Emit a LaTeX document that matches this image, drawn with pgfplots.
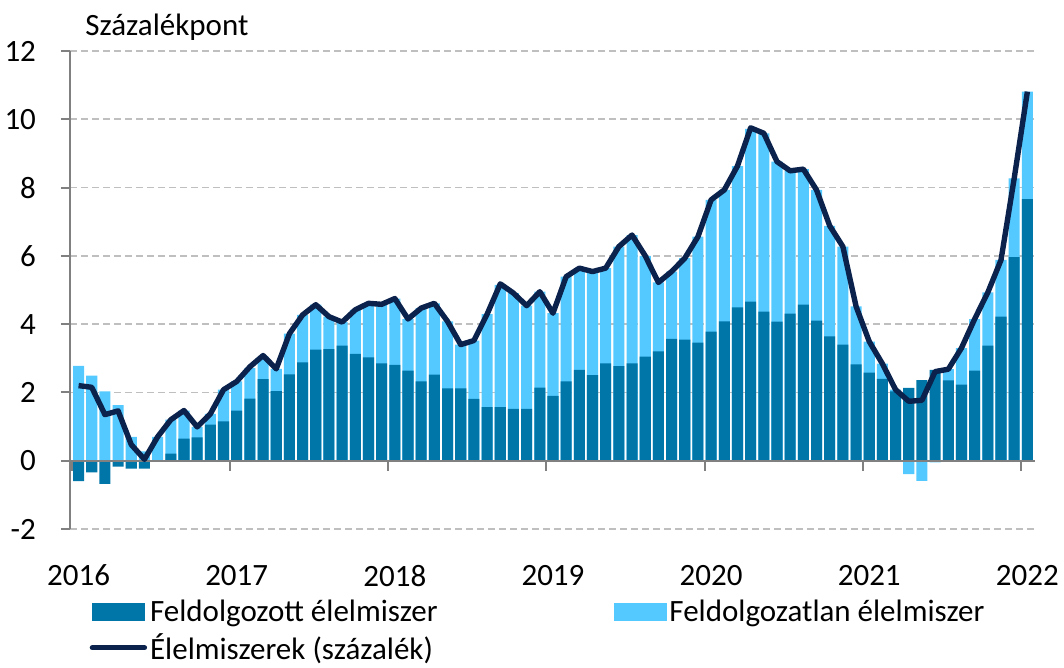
\documentclass[border=0pt]{standalone}
\usepackage{fontspec}
\setmainfont{Carlito}
\usepackage{pgfplots}
\pgfplotsset{compat=1.18}
\usepackage{pgfplotstable}

\definecolor{feldolg}{RGB}{0,118,168}
\definecolor{feldatl}{RGB}{84,201,255}
\definecolor{osszes}{RGB}{11,34,77}
\definecolor{tengely}{RGB}{128,128,128}
\definecolor{racs}{RGB}{191,191,191}

% x: month index + 0.5 (Jan 2016 = 0.5)
% d: processed food, l: unprocessed (bar top, or bottom if negative), t: total
\pgfplotstableread{
x d l t
0.5 -0.60 2.78 2.20
1.5 -0.34 2.49 2.15
2.5 -0.68 2.03 1.35
3.5 -0.17 1.63 1.46
4.5 -0.23 0.70 0.47
5.5 -0.23 0.27 0.04
6.5 0.00 0.70 0.70
7.5 0.21 1.20 1.20
8.5 0.65 1.47 1.47
9.5 0.68 0.99 0.99
10.5 1.06 1.37 1.37
11.5 1.15 2.08 2.08
12.5 1.47 2.32 2.32
13.5 1.82 2.71 2.75
14.5 2.39 3.05 3.08
15.5 2.04 2.69 2.69
16.5 2.53 3.72 3.72
17.5 2.88 4.27 4.27
18.5 3.25 4.57 4.57
19.5 3.27 4.22 4.22
20.5 3.37 4.06 4.06
21.5 3.13 4.42 4.42
22.5 3.03 4.61 4.61
23.5 2.85 4.58 4.58
24.5 2.81 4.75 4.75
25.5 2.64 4.15 4.15
26.5 2.32 4.47 4.47
27.5 2.52 4.61 4.61
28.5 2.12 4.08 4.08
29.5 2.12 3.40 3.40
30.5 1.81 3.52 3.52
31.5 1.57 4.29 4.29
32.5 1.57 5.15 5.18
33.5 1.52 4.91 4.91
34.5 1.52 4.54 4.54
35.5 2.14 4.95 4.95
36.5 1.90 4.32 4.32
37.5 2.32 5.39 5.39
38.5 2.66 5.64 5.64
39.5 2.51 5.54 5.54
40.5 2.85 5.64 5.64
41.5 2.77 6.27 6.27
42.5 2.85 6.61 6.61
43.5 3.05 6.00 6.00
44.5 3.20 5.22 5.22
45.5 3.57 5.54 5.54
46.5 3.55 5.93 5.93
47.5 3.46 6.56 6.56
48.5 3.78 7.64 7.64
49.5 4.08 7.93 7.93
50.5 4.49 8.63 8.63
51.5 4.66 9.72 9.75
52.5 4.37 9.59 9.59
53.5 4.07 8.76 8.76
54.5 4.31 8.49 8.49
55.5 4.57 8.54 8.54
56.5 4.10 7.93 7.93
57.5 3.64 6.88 6.88
58.5 3.40 6.27 6.27
59.5 2.82 4.52 4.52
60.5 2.58 3.49 3.49
61.5 2.40 2.84 2.84
62.5 2.03 2.08 2.08
63.5 2.13 -0.39 1.74
64.5 2.36 -0.59 1.77
65.5 2.66 -0.05 2.61
66.5 2.35 2.68 2.68
67.5 2.23 3.30 3.30
68.5 2.64 4.15 4.15
69.5 3.37 4.93 4.93
70.5 4.22 5.88 5.88
71.5 5.96 8.27 8.27
72.5 7.66 10.81 10.81
}\adat

\begin{document}
\begin{tikzpicture}[font=\fontsize{15.5}{18}\selectfont]
\path[use as bounding box] (0pt,0pt) rectangle (532pt,334pt);
\begin{axis}[
    at={(35pt,69.5pt)}, anchor=south west,
    scale only axis,
    width=482.5pt, height=239pt,
    xmin=-0.15, xmax=73.08,
    ymin=-2, ymax=12,
    ytick={-2,0,...,12},
    xtick={0.5,12.5,...,72.5},
    xticklabels={2016,2017,2018,2019,2020,2021,2022},
    axis y line*=left,
    axis x line*=bottom,
    x axis line style={draw=none},
    y axis line style={draw=tengely, line width=1pt},
    xtick style={draw=none},
    ytick style={draw=tengely, line width=1pt},
    tick align=outside,
    major tick length=4.5pt,
    ymajorgrids=true,
    grid style={racs, line width=0.8pt, dash pattern=on 3.5pt off 2pt},
    /pgf/number format/assume math mode=true,
    yticklabel style={xshift=-9pt},
    xticklabel style={yshift=-10pt},
    bar width=0.84,
    legend columns=2,
    legend cell align=left,
    legend style={at={(0.02,-0.141)}, anchor=north west, draw=none, fill=none,
        inner sep=0pt, nodes={inner sep=1.5pt},
        /tikz/every even column/.append style={column sep=86.5pt},
        /tikz/row sep=1.5pt},
]
\addplot[ybar, bar shift=0, fill=feldatl, draw=none, forget plot] table[x=x, y=l] {\adat};
\addplot[ybar, bar shift=0, fill=feldolg, draw=none, forget plot] table[x=x, y=d] {\adat};
\draw[tengely, line width=1pt] (axis cs:-0.15,0) -- (axis cs:73.08,0);
\pgfplotsinvokeforeach{0,12,...,72}{
  \draw[tengely, line width=1pt] (axis cs:#1,0) -- ++(0pt,-5pt);
}
\addplot[osszes, line width=2.7pt, line join=round, mark=none, forget plot] table[x=x, y=t] {\adat};

\addlegendimage{legend image code/.code={\fill[feldolg] (0pt,-4.25pt) rectangle (26pt,4.25pt);}}
\addlegendentry{Feldolgozott élelmiszer}
\addlegendimage{legend image code/.code={\fill[feldatl] (0pt,-4.25pt) rectangle (26pt,4.25pt);}}
\addlegendentry{Feldolgozatlan élelmiszer}
\addlegendimage{legend image code/.code={\draw[osszes, line width=2.7pt, line cap=round] (0pt,0pt) -- (26pt,0pt);}}
\addlegendentry{Élelmiszerek (százalék)}
\end{axis}
\node[anchor=base west, inner sep=0pt] at (42.5pt,316pt) {Százalékpont};
\end{tikzpicture}
\end{document}
